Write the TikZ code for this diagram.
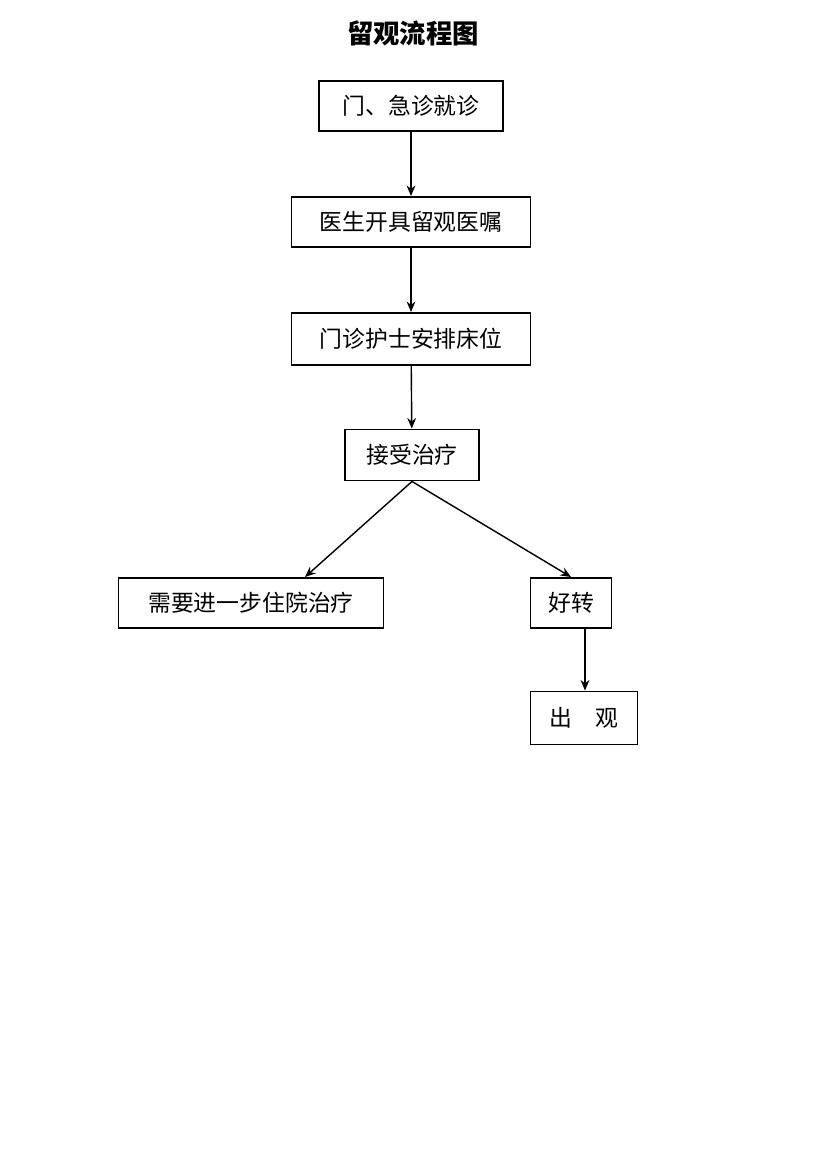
\documentclass[tikz,border=0pt]{standalone}
\usepackage{fontspec}
\newfontfamily\cjk{Noto Sans CJK SC}
\usetikzlibrary{arrows.meta}
\begin{document}
\begin{tikzpicture}[x=0.02cm,y=-0.02cm,
  box/.style={draw,line width=1.1pt,inner sep=0pt,font=\cjk\fontsize{13}{15}\selectfont},
  arr/.style={draw,line width=0.8pt,-{Stealth[length=6pt,width=5pt]}}]
\useasboundingbox[fill=white] (0,0) rectangle (837,1159);
\node[font=\cjk\bfseries\fontsize{15}{18}\selectfont] (title) at (413,33) {留观流程图};
\node[box,minimum width=184*0.02cm,minimum height=50*0.02cm] (b1) at (411,106) {门、急诊就诊};
\node[box,minimum width=239*0.02cm,minimum height=50*0.02cm] (b2) at (411,222) {医生开具留观医嘱};
\node[box,minimum width=239*0.02cm,minimum height=52*0.02cm] (b3) at (411,339) {门诊护士安排床位};
\node[box,minimum width=134*0.02cm,minimum height=51*0.02cm] (b4) at (412,455) {接受治疗};
\node[box,minimum width=265*0.02cm,minimum height=50*0.02cm] (b5) at (251,603) {需要进一步住院治疗};
\node[box,minimum width=81*0.02cm,minimum height=50*0.02cm] (b6) at (571,603) {好转};
\node[box,minimum width=107*0.02cm,minimum height=53*0.02cm] (b7) at (584,718) {出\quad 观};
\draw[arr] (b1) -- (b2);
\draw[arr] (b2) -- (b3);
\draw[arr] (b3) -- (b4);
\draw[arr] (b4.south) -- (b5.north -| 305,0);
\draw[arr] (b4.south) -- (b6.north);
\draw[arr] (b6.south -| 585,0) -- (b7.north -| 585,0);
\end{tikzpicture}
\end{document}
